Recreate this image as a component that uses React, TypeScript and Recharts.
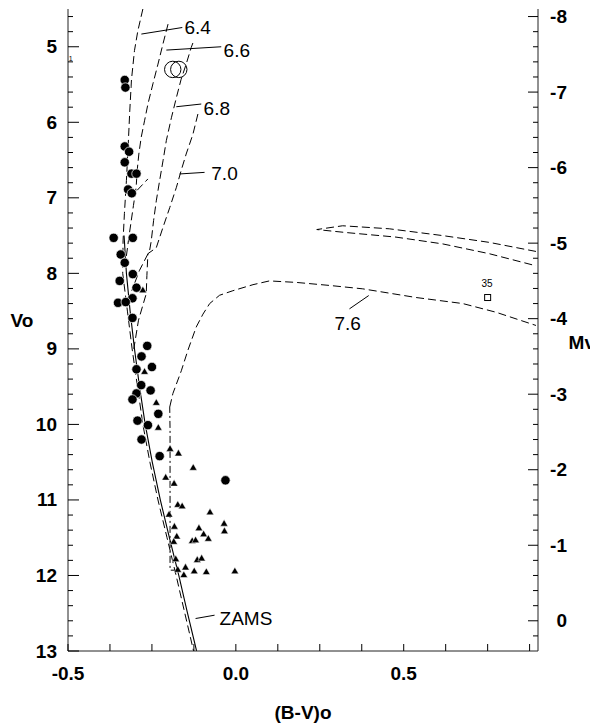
import React from 'react';
import { ComposedChart, XAxis, YAxis, Line, Scatter } from 'recharts';

const W = 590;
const H = 724;
const FONT = '"Liberation Sans", Arial, Helvetica, sans-serif';
const INK = '#000';
const AXIS = '#222';

// ---------- axes ----------
const xDomain = [-0.5, 0.9];
const voDomain = [4.5, 13];
const distanceModulus = 12.6; // Mv = Vo - DM
const mvDomain = [voDomain[0] - distanceModulus, voDomain[1] - distanceModulus];

const xTicks = [-0.5, -0.375, -0.25, -0.125, 0, 0.125, 0.25, 0.375, 0.5, 0.625, 0.75, 0.875];
const xTickLabels: Record<string, string> = { '-0.5': '-0.5', '0': '0.0', '0.5': '0.5' };
const voTicks = [
  4.6, 4.8, 5, 5.2, 5.4, 5.6, 5.8, 6, 6.2, 6.4, 6.6, 6.8, 7, 7.2, 7.4, 7.6, 7.8, 8, 8.2, 8.4, 8.6, 8.8,
  9, 9.2, 9.4, 9.6, 9.8, 10, 10.2, 10.4, 10.6, 10.8, 11, 11.2, 11.4, 11.6, 11.8, 12, 12.2, 12.4, 12.6, 12.8, 13,
];
const mvTicks = [
  -8, -7.8, -7.6, -7.4, -7.2, -7, -6.8, -6.6, -6.4, -6.2, -6, -5.8, -5.6, -5.4, -5.2, -5, -4.8, -4.6, -4.4, -4.2,
  -4, -3.8, -3.6, -3.4, -3.2, -3, -2.8, -2.6, -2.4, -2.2, -2, -1.8, -1.6, -1.4, -1.2, -1, -0.8, -0.6, -0.4, -0.2, 0, 0.2,
];

// ---------- stars ----------
const circleStars = [
  { x: -0.331, y: 5.44 }, { x: -0.329, y: 5.54 }, { x: -0.331, y: 6.32 }, { x: -0.318, y: 6.39 },
  { x: -0.331, y: 6.53 }, { x: -0.311, y: 6.68 }, { x: -0.296, y: 6.68 }, { x: -0.321, y: 6.89 },
  { x: -0.310, y: 6.94 }, { x: -0.364, y: 7.53 }, { x: -0.307, y: 7.53 }, { x: -0.343, y: 7.75 },
  { x: -0.331, y: 7.86 }, { x: -0.307, y: 8.01 }, { x: -0.346, y: 8.10 }, { x: -0.296, y: 8.19 },
  { x: -0.308, y: 8.33 }, { x: -0.351, y: 8.39 }, { x: -0.328, y: 8.38 }, { x: -0.308, y: 8.59 },
  { x: -0.264, y: 8.96 }, { x: -0.281, y: 9.10 }, { x: -0.250, y: 9.24 }, { x: -0.296, y: 9.27 },
  { x: -0.282, y: 9.48 }, { x: -0.254, y: 9.55 }, { x: -0.296, y: 9.59 }, { x: -0.308, y: 9.67 },
  { x: -0.231, y: 9.86 }, { x: -0.293, y: 9.95 }, { x: -0.262, y: 10.01 }, { x: -0.281, y: 10.20 },
  { x: -0.227, y: 10.42 }, { x: -0.031, y: 10.74 },
];

const triangleStars = [
  { x: -0.277, y: 8.22 }, { x: -0.272, y: 9.30 }, { x: -0.237, y: 9.71 }, { x: -0.231, y: 10.04 },
  { x: -0.196, y: 10.32 }, { x: -0.171, y: 10.38 }, { x: -0.127, y: 10.57 }, { x: -0.209, y: 10.70 },
  { x: -0.184, y: 10.78 }, { x: -0.173, y: 11.06 }, { x: -0.160, y: 11.08 }, { x: -0.077, y: 11.16 },
  { x: -0.199, y: 11.19 }, { x: -0.035, y: 11.31 }, { x: -0.183, y: 11.35 }, { x: -0.110, y: 11.37 },
  { x: -0.034, y: 11.41 }, { x: -0.096, y: 11.45 }, { x: -0.176, y: 11.48 }, { x: -0.082, y: 11.51 },
  { x: -0.185, y: 11.55 }, { x: -0.130, y: 11.54 }, { x: -0.120, y: 11.53 }, { x: -0.179, y: 11.78 },
  { x: -0.115, y: 11.79 }, { x: -0.102, y: 11.77 }, { x: -0.173, y: 11.92 }, { x: -0.150, y: 11.89 },
  { x: -0.124, y: 11.94 }, { x: -0.088, y: 11.95 }, { x: -0.003, y: 11.94 }, { x: -0.155, y: 11.99 },
];

const openCircleStars = [{ x: -0.188, y: 5.30 }, { x: -0.170, y: 5.30 }];
const squareStars = [{ x: 0.75, y: 8.32, name: '35' }];

// ---------- curves ----------
const zams = [
  { x: -0.333, y: 7.5 }, { x: -0.326, y: 8.0 },
  { x: -0.315, y: 8.5 }, { x: -0.302, y: 9.0 }, { x: -0.287, y: 9.5 }, { x: -0.270, y: 10.0 },
  { x: -0.249, y: 10.5 }, { x: -0.225, y: 11.0 }, { x: -0.198, y: 11.5 }, { x: -0.170, y: 12.0 },
  { x: -0.144, y: 12.5 }, { x: -0.117, y: 13.0 },
];
const iso64 = [
  { x: -0.277, y: 4.50 }, { x: -0.292, y: 4.79 }, { x: -0.302, y: 5.05 }, { x: -0.311, y: 5.44 },
  { x: -0.316, y: 5.85 }, { x: -0.321, y: 6.33 }, { x: -0.326, y: 6.77 }, { x: -0.332, y: 7.21 },
  { x: -0.336, y: 7.57 }, { x: -0.337, y: 8.0 }, { x: -0.323, y: 8.5 }, { x: -0.309, y: 9.0 },
  { x: -0.293, y: 9.5 }, { x: -0.277, y: 10.0 }, { x: -0.256, y: 10.5 }, { x: -0.232, y: 11.0 },
  { x: -0.205, y: 11.5 }, { x: -0.178, y: 12.0 }, { x: -0.152, y: 12.5 }, { x: -0.126, y: 13.0 },
];
const iso66 = [
  { x: -0.202, y: 4.70 }, { x: -0.217, y: 4.96 }, { x: -0.232, y: 5.23 }, { x: -0.247, y: 5.49 },
  { x: -0.262, y: 5.76 }, { x: -0.272, y: 5.98 }, { x: -0.282, y: 6.20 }, { x: -0.289, y: 6.42 },
  { x: -0.294, y: 6.64 }, { x: -0.297, y: 6.86 }, { x: -0.305, y: 7.10 }, { x: -0.318, y: 7.50 },
  { x: -0.330, y: 7.90 },
];
const iso66Hook = [{ x: -0.294, y: 6.90 }, { x: -0.262, y: 6.75 }];
const iso68 = [
  { x: -0.128, y: 4.95 }, { x: -0.133, y: 5.01 }, { x: -0.148, y: 5.23 }, { x: -0.163, y: 5.43 },
  { x: -0.177, y: 5.67 }, { x: -0.192, y: 5.94 }, { x: -0.207, y: 6.24 }, { x: -0.217, y: 6.51 },
  { x: -0.227, y: 6.77 }, { x: -0.237, y: 7.04 }, { x: -0.245, y: 7.30 }, { x: -0.252, y: 7.57 },
  { x: -0.257, y: 7.70 }, { x: -0.287, y: 7.96 }, { x: -0.310, y: 8.23 },
];
const iso70 = [
  { x: -0.113, y: 5.89 }, { x: -0.128, y: 6.16 }, { x: -0.148, y: 6.42 }, { x: -0.163, y: 6.64 },
  { x: -0.177, y: 6.86 }, { x: -0.197, y: 7.13 }, { x: -0.217, y: 7.39 }, { x: -0.237, y: 7.66 },
  { x: -0.262, y: 7.74 }, { x: -0.265, y: 8.03 }, { x: -0.267, y: 8.27 }, { x: -0.290, y: 8.62 },
  { x: -0.304, y: 9.0 },
];
const iso70Giants = [
  { x: 0.894, y: 7.71 }, { x: 0.755, y: 7.59 }, { x: 0.616, y: 7.50 }, { x: 0.457, y: 7.41 },
  { x: 0.318, y: 7.37 }, { x: 0.241, y: 7.42 }, { x: 0.329, y: 7.46 }, { x: 0.477, y: 7.52 },
  { x: 0.616, y: 7.61 }, { x: 0.755, y: 7.74 }, { x: 0.894, y: 7.90 },
];
const iso76Turnoff = [
  { x: -0.173, y: 11.93 }, { x: -0.196, y: 11.93 }, { x: -0.196, y: 10.08 }, { x: -0.197, y: 9.77 },
];
const iso76 = [
  { x: -0.197, y: 9.77 }, { x: -0.1875, y: 9.59 }, { x: -0.1625, y: 9.29 }, { x: -0.143, y: 9.02 },
  { x: -0.118, y: 8.71 }, { x: -0.098, y: 8.54 }, { x: -0.078, y: 8.40 }, { x: -0.0485, y: 8.29 },
  { x: -0.009, y: 8.23 }, { x: 0.051, y: 8.15 }, { x: 0.100, y: 8.10 }, { x: 0.180, y: 8.12 },
  { x: 0.279, y: 8.16 }, { x: 0.378, y: 8.205 }, { x: 0.537, y: 8.32 }, { x: 0.676, y: 8.40 },
  { x: 0.775, y: 8.515 }, { x: 0.894, y: 8.69 },
];

// ---------- annotations (data coordinates) ----------
const curveLabels = [
  { text: '6.4', x: -0.153, y: 4.745 },
  { text: '6.6', x: -0.0366, y: 5.044 },
  { text: '6.8', x: -0.0961, y: 5.811 },
  { text: '7.0', x: -0.0732, y: 6.684 },
  { text: '7.6', x: 0.2938, y: 8.668 },
  { text: 'ZAMS', x: -0.0485, y: 12.57 },
];
const leaderLines = [
  [{ x: -0.2815, y: 4.832 }, { x: -0.1595, y: 4.745 }],
  [{ x: -0.2071, y: 5.044 }, { x: -0.0435, y: 5.0 }],
  [{ x: -0.1774, y: 5.794 }, { x: -0.103, y: 5.758 }],
  [{ x: -0.1676, y: 6.684 }, { x: -0.0932, y: 6.663 }],
  [{ x: 0.3384, y: 8.47 }, { x: 0.3958, y: 8.294 }],
  [{ x: -0.12, y: 12.57 }, { x: -0.0634, y: 12.526 }],
];
const smallLabels = [{ text: '35', x: 0.7483, y: 8.14 }];
const tinyLabels = [{ text: '1', x: -0.492, y: 5.16 }];

// ---------- ticks ----------
const isInt = (v: number) => Math.abs(v - Math.round(v)) < 1e-6;
const numStyle = { fontFamily: FONT, fontWeight: 700, fontSize: 19, fill: INK } as const;

function LeftTick(p: any) {
  const { x, y, payload } = p;
  const v = payload.value as number;
  const major = isInt(v);
  return (
    <g>
      <line x1={x} y1={y} x2={x + (major ? 11 : 5)} y2={y} stroke={INK} strokeWidth={1} />
      {major && (
        <text x={x - 11} y={y} textAnchor="end" dominantBaseline="central" {...numStyle}>
          {Math.round(v)}
        </text>
      )}
    </g>
  );
}
function RightTick(p: any) {
  const { x, y, payload } = p;
  const v = payload.value as number;
  const major = isInt(v);
  return (
    <g>
      <line x1={x} y1={y} x2={x - (major ? 10 : 5)} y2={y} stroke={INK} strokeWidth={1} />
      {major && (
        <text x={x + 29} y={y} textAnchor="end" dominantBaseline="central" {...numStyle}>
          {Math.round(v)}
        </text>
      )}
    </g>
  );
}
function BottomTick(p: any) {
  const { x, y, payload } = p;
  const v = payload.value as number;
  const lab = xTickLabels[String(v)];
  return (
    <g>
      <line x1={x} y1={y} x2={x} y2={y - 7} stroke={INK} strokeWidth={1} />
      {lab && (
        <text x={x} y={y + 22} textAnchor="middle" dominantBaseline="central" {...numStyle}>
          {lab}
        </text>
      )}
    </g>
  );
}
function TopTick(p: any) {
  const { x, y } = p;
  return <line x1={x} y1={y} x2={x} y2={y + 7} stroke={INK} strokeWidth={1} />;
}

// ---------- marker shapes ----------
const FilledCircle = (p: any) => (
  <circle cx={p.cx} cy={p.cy} r={4.7} fill={INK} stroke="#fff" strokeWidth={0.7} />
);
const FilledTriangle = (p: any) => (
  <polygon
    points={`${p.cx},${p.cy - 3.8} ${p.cx - 3.8},${p.cy + 2.8} ${p.cx + 3.8},${p.cy + 2.8}`}
    fill={INK}
    stroke="#fff"
    strokeWidth={0.5}
  />
);
const OpenCircle = (p: any) => (
  <circle cx={p.cx} cy={p.cy} r={8.2} fill="none" stroke={INK} strokeWidth={1} />
);
const OpenSquare = (p: any) => (
  <rect x={p.cx - 3} y={p.cy - 3} width={6} height={6} fill="#fff" stroke={INK} strokeWidth={1} />
);
const LabelText = (p: any) => (
  <text x={p.cx} y={p.cy} dominantBaseline="central" fontFamily={FONT} fontSize={19} fill={INK}>
    {p.payload.text}
  </text>
);
const SmallText = (p: any) => (
  <text x={p.cx} y={p.cy} textAnchor="middle" dominantBaseline="central" fontFamily={FONT} fontSize={10} fill={INK}>
    {p.payload.text}
  </text>
);
const TinyText = (p: any) => (
  <text x={p.cx} y={p.cy} textAnchor="middle" dominantBaseline="central" fontFamily={FONT} fontSize={7} fill={INK}>
    {p.payload.text}
  </text>
);

const ax = { xAxisId: 'b', yAxisId: 'l' };
const DASH = '8 4';

function curve(key: string, data: any[], dash?: string, width = 1) {
  return (
    <Line
      key={key}
      {...ax}
      data={data}
      dataKey="y"
      type="linear"
      stroke={INK}
      strokeWidth={width}
      strokeDasharray={dash}
      dot={false}
      activeDot={false}
      isAnimationActive={false}
      legendType="none"
    />
  );
}

export default function App() {
  return (
    <div style={{ position: 'relative', width: W, height: H, marginTop: -8 }}>
      <ComposedChart width={W} height={H} margin={{ top: 9, right: 0, bottom: 0, left: 0 }}>
        <XAxis
          xAxisId="b"
          dataKey="x"
          type="number"
          orientation="bottom"
          domain={xDomain}
          ticks={xTicks}
          interval={0}
          allowDataOverflow
          height={73}
          tickSize={0}
          tickMargin={0}
          tickLine={false}
          axisLine={{ stroke: AXIS }}
          tick={BottomTick}
        />
        <XAxis
          xAxisId="t"
          dataKey="x"
          type="number"
          orientation="top"
          domain={xDomain}
          ticks={xTicks}
          interval={0}
          allowDataOverflow
          height={0}
          tickSize={0}
          tickMargin={0}
          tickLine={false}
          axisLine={{ stroke: AXIS }}
          tick={TopTick}
        />
        <YAxis
          yAxisId="l"
          dataKey="y"
          type="number"
          orientation="left"
          domain={voDomain}
          reversed
          ticks={voTicks}
          interval={0}
          allowDataOverflow
          width={60}
          tickSize={0}
          tickMargin={0}
          tickLine={false}
          axisLine={{ stroke: AXIS }}
          tick={LeftTick}
        />
        <YAxis
          yAxisId="r"
          dataKey="y"
          type="number"
          orientation="right"
          domain={mvDomain}
          reversed
          ticks={mvTicks}
          interval={0}
          allowDataOverflow
          width={60}
          tickSize={0}
          tickMargin={0}
          tickLine={false}
          axisLine={{ stroke: AXIS }}
          tick={RightTick}
        />

        {curve('zams', zams, undefined, 1.1)}
        {curve('iso64', iso64, DASH)}
        {curve('iso66', iso66, DASH)}
        {curve('iso66h', iso66Hook, DASH)}
        {curve('iso68', iso68, DASH)}
        {curve('iso70', iso70, DASH)}
        {curve('iso70g', iso70Giants, DASH)}
        {curve('iso76', iso76, DASH)}
        {curve('iso76t', iso76Turnoff, '7 3 2 3')}
        {leaderLines.map((seg, i) => curve('lead' + i, seg))}

        <Scatter {...ax} data={circleStars} shape={FilledCircle} isAnimationActive={false} legendType="none" />
        <Scatter {...ax} data={triangleStars} shape={FilledTriangle} isAnimationActive={false} legendType="none" />
        <Scatter {...ax} data={openCircleStars} shape={OpenCircle} isAnimationActive={false} legendType="none" />
        <Scatter {...ax} data={squareStars} shape={OpenSquare} isAnimationActive={false} legendType="none" />
        <Scatter {...ax} data={curveLabels} shape={LabelText} isAnimationActive={false} legendType="none" />
        <Scatter {...ax} data={smallLabels} shape={SmallText} isAnimationActive={false} legendType="none" />
        <Scatter {...ax} data={tinyLabels} shape={TinyText} isAnimationActive={false} legendType="none" />
      </ComposedChart>
      <svg width={W} height={H} style={{ position: 'absolute', left: 0, top: 0, pointerEvents: 'none' }}>
        <text x={14} y={320} textAnchor="middle" dominantBaseline="central" {...numStyle}>Vo</text>
        <text x={587} y={342} textAnchor="end" dominantBaseline="central" {...numStyle}>Mv</text>
        <text x={295} y={712} textAnchor="middle" dominantBaseline="central" {...numStyle}>(B-V)o</text>
      </svg>
    </div>
  );
}
